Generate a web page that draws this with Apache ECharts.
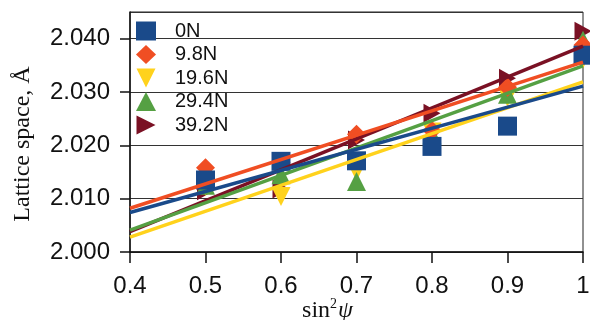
<!DOCTYPE html>
<html>
<head>
<meta charset="utf-8">
<script src="https://cdn.jsdelivr.net/npm/echarts@6/dist/echarts.min.js"></script>
<style>
  html, body { margin: 0; padding: 0; background: #fff; }
  #chart { width: 590px; height: 320px; }
</style>
</head>
<body>
<div id="chart"></div>
<script>
// sin^2(psi) positions of the measurements
const sin2psi = [0.5, 0.6, 0.7, 0.8, 0.9, 1.0];

// Measured lattice spacing (Å) per applied load
const load0N   = [2.0135, 2.0170, 2.0171, 2.0198, 2.0236, 2.0369];
const load98N  = [2.0158, 2.0168, 2.0221, 2.0228, 2.0309, 2.0388];
const load196N = [2.0123, 2.0104, 2.0151, 2.0225, 2.0290, 2.0362];
const load294N = [2.0125, 2.0145, 2.0132, 2.0220, 2.0296, 2.0397];
const load392N = [2.0115, 2.0118, 2.0210, 2.0260, 2.0326, 2.0414];

// Linear fit lines: value at sin^2(psi) = 0.4 and at 1.0
const fitX     = [0.4, 1.0];
const fit0N    = [2.0074, 2.0311];
const fit98N   = [2.0082, 2.0356];
const fit196N  = [2.0028, 2.0319];
const fit294N  = [2.0041, 2.0349];
const fit392N  = [2.0038, 2.0386];

const seriesNames = ['0N', '9.8N', '19.6N', '29.4N', '39.2N'];
const yTicks = [2.000, 2.010, 2.020, 2.030, 2.040];

const colors  = ['#1a4a8a', '#f04e23', '#ffd21c', '#55a043', '#7a1124'];
const symbols = ['rect', 'diamond', 'path://M0,0L2,0L1,2Z', 'triangle', 'path://M0,0L2,1L0,2Z'];
const points  = [load0N, load98N, load196N, load294N, load392N];
const fits    = [fit0N, fit98N, fit196N, fit294N, fit392N];
// stacking order of the markers (first series on top)
const markerZ = [10, 9, 7, 8, 6];

const series = [];
seriesNames.forEach((name, i) => {
  series.push({
    name: name,
    type: 'scatter',
    data: sin2psi.map((x, k) => [x, points[i][k]]),
    symbol: symbols[i],
    symbolSize: i === 4 ? [17, 19] : 19,
    itemStyle: { color: colors[i], opacity: 1 },
    z: markerZ[i],
    silent: true
  });
});
const lineZ = [14, 15, 12, 13, 11];
seriesNames.forEach((name, i) => {
  series.push({
    name: name + ' fit',
    type: 'line',
    data: fitX.map((x, k) => [x, fits[i][k]]),
    showSymbol: false,
    symbol: 'none',
    lineStyle: { color: colors[i], width: 3.5 },
    z: lineZ[i],
    silent: true,
    animation: false
  });
});

const chart = echarts.init(document.getElementById('chart'), null, { renderer: 'canvas' });
chart.setOption({
  animation: false,
  backgroundColor: '#ffffff',
  grid: {
    left: 130, right: 7, top: 12, bottom: 68,
    outerBoundsMode: 'none',
    containLabel: false,
    show: true, borderColor: '#222', borderWidth: 1
  },
  legend: {
    orient: 'vertical',
    left: 131, top: 16,
    itemWidth: 20, itemHeight: 19, itemGap: 3.5,
    data: seriesNames.map((n, i) => ({ name: n, icon: symbols[i] })),
    textStyle: {
      fontFamily: 'Liberation Sans', fontSize: 20, color: '#111',
      padding: [0, 0, 0, 14]
    },
    selectedMode: false
  },
  xAxis: {
    type: 'value',
    min: 0.4, max: 1.0, interval: 0.1,
    name: '{a|sin}{b|2}{c|ψ}',
    nameLocation: 'middle',
    nameGap: 45,
    nameMoveOverlap: false,
    nameTextStyle: {
      padding: [0, 58, 0, 0],
      rich: {
        a: { fontFamily: 'Liberation Serif', fontSize: 24, color: '#111' },
        b: { fontFamily: 'Liberation Serif', fontSize: 14, color: '#111', padding: [0, 1, 13, 0] },
        c: { fontFamily: 'Liberation Serif', fontSize: 24, fontStyle: 'italic', color: '#111' }
      }
    },
    axisLine: { lineStyle: { color: '#111', width: 1.5 } },
    axisTick: { show: true, inside: false, length: 11, lineStyle: { color: '#111', width: 1.5 } },
    axisLabel: {
      margin: 22,
      fontFamily: 'Liberation Sans', fontSize: 24, color: '#111',
      formatter: v => (Math.abs(v - 1) < 1e-9 ? '1' : v.toFixed(1))
    },
    splitLine: { show: false }
  },
  yAxis: {
    type: 'value',
    min: yTicks[0], max: 2.045, interval: 0.01,
    name: 'Lattice space, Å',
    nameLocation: 'middle',
    nameGap: 95,
    nameRotate: 90,
    nameTextStyle: {
      fontFamily: 'Liberation Serif', fontSize: 24, color: '#111',
      padding: [0, 24, 0, 0]
    },
    axisLine: { show: true, lineStyle: { color: '#111', width: 1.5 } },
    axisTick: { show: true, inside: false, length: 10, lineStyle: { color: '#111', width: 1.5 } },
    axisLabel: {
      margin: 20, showMaxLabel: false,
      fontFamily: 'Liberation Sans', fontSize: 24, color: '#111',
      formatter: v => v.toFixed(3)
    },
    splitLine: { show: true, lineStyle: { color: '#333', width: 1.2 } }
  },
  series: series
});
</script>
</body>
</html>
